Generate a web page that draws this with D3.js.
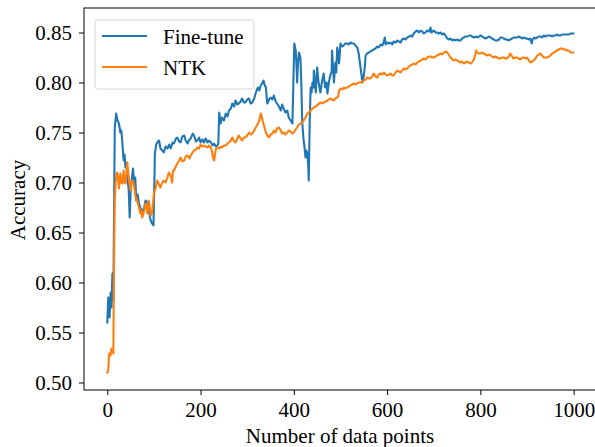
<!DOCTYPE html>
<html>
<head>
<meta charset="utf-8">
<script src="https://cdn.jsdelivr.net/npm/d3@7"></script>
<style>
  body { margin: 0; background: #fff; }
  svg { display: block; }
  text { font-family: 'Liberation Serif', 'Times New Roman', serif; fill: #000; }
  .axis path, .axis line { stroke: #000; stroke-width: 1; }
</style>
</head>
<body>
<div id="chart"></div>
<script>
var seriesNames = ['Fine-tune', 'NTK'];
var seriesColors = ['#1f77b4', '#ff7f0e'];
var xTicks = [0, 200, 400, 600, 800, 1000];
var yTicks = [0.50, 0.55, 0.60, 0.65, 0.70, 0.75, 0.80, 0.85];

var fineTuneN = [0, 2, 5, 7, 9, 11, 13, 15, 16, 19, 22, 25, 28, 30, 32, 35, 37, 39, 41, 43, 46, 48, 50, 52, 55, 58, 60, 62, 65, 68, 71, 75, 79, 82, 86, 89, 93, 96, 99,
  101, 102, 105, 107, 111, 114, 118, 121, 125, 129, 133, 136, 140, 143, 147, 150, 154, 157, 161, 165, 168, 172, 176, 179, 183, 186, 190, 193, 197,
  200, 204, 207, 211, 215, 218, 222, 226, 229, 233, 236, 238, 240, 243, 246, 250, 254, 258, 261, 265, 268, 272, 275, 279, 282, 286, 289, 293, 296,
  300, 304, 307, 311, 315, 318, 321, 323, 326, 329, 332, 335, 337, 340, 343, 347, 350, 354, 357, 361, 364, 368, 372, 375, 378, 382, 386, 389, 393, 397, 399,
  401, 404, 406, 407, 409, 411, 414, 416, 418, 421, 423, 425, 427, 429, 431, 432, 434, 436, 438, 440, 442, 443, 445, 447, 450, 453, 455, 457, 460, 464, 467,
  470, 472, 475, 479, 481, 482, 484, 486, 489, 491, 493, 495, 497, 500, 503, 507, 510, 514, 518, 521, 525, 529, 532, 536, 539, 541, 543, 545, 547, 550, 552,
  554, 557, 561, 564, 568, 571, 575, 579, 582, 586, 590, 593, 595, 597, 600, 604, 607, 611, 614, 618, 622, 625, 629, 632, 636, 640, 643, 647, 650, 654,
  657, 661, 665, 668, 672, 675, 679, 682, 686, 690, 693, 695, 697, 700, 704, 707, 711, 715, 718, 722, 725, 729, 732, 736, 740, 743, 747, 750, 754, 757,
  761, 764, 768, 772, 775, 779, 782, 786, 790, 793, 797, 800, 804, 807, 811, 815, 818, 822, 825, 829, 832, 836, 840, 843, 847, 850, 854, 857, 861, 864,
  868, 871, 875, 879, 882, 886, 890, 893, 897, 900, 904, 907, 910, 912, 915, 918, 922, 925, 929, 932, 936, 940, 943, 947, 950, 954, 957, 961, 964, 968,
  972, 975, 979, 982, 986, 990, 993, 996, 999];
var fineTuneAcc = [0.560, 0.585, 0.565, 0.590, 0.575, 0.609, 0.582, 0.700, 0.755, 0.769, 0.762, 0.759, 0.750, 0.752, 0.742, 0.722, 0.728, 0.715, 0.720, 0.705, 0.692, 0.665, 0.690, 0.702, 0.714, 0.699, 0.705, 0.682, 0.688, 0.679, 0.675, 0.670, 0.675, 0.682, 0.680, 0.672, 0.662, 0.659, 0.657,
  0.700, 0.729, 0.738, 0.740, 0.742, 0.734, 0.732, 0.730, 0.736, 0.734, 0.738, 0.734, 0.740, 0.739, 0.744, 0.745, 0.741, 0.740, 0.746, 0.747, 0.742, 0.739, 0.743, 0.744, 0.749, 0.747, 0.741, 0.742, 0.745,
  0.740, 0.743, 0.740, 0.744, 0.740, 0.742, 0.740, 0.737, 0.739, 0.736, 0.737, 0.739, 0.770, 0.759, 0.765, 0.762, 0.769, 0.766, 0.772, 0.774, 0.779, 0.776, 0.782, 0.778, 0.779, 0.781, 0.784, 0.780, 0.780,
  0.783, 0.784, 0.779, 0.780, 0.784, 0.789, 0.793, 0.795, 0.792, 0.797, 0.799, 0.802, 0.798, 0.795, 0.779, 0.783, 0.785, 0.783, 0.787, 0.781, 0.779, 0.776, 0.772, 0.778, 0.774, 0.770, 0.772, 0.765, 0.762, 0.759, 0.800,
  0.839, 0.832, 0.815, 0.800, 0.820, 0.830, 0.825, 0.800, 0.760, 0.742, 0.735, 0.725, 0.732, 0.729, 0.715, 0.702, 0.760, 0.795, 0.790, 0.800, 0.795, 0.812, 0.800, 0.790, 0.815, 0.800, 0.795, 0.790, 0.800, 0.809, 0.795,
  0.800, 0.789, 0.800, 0.809, 0.810, 0.832, 0.815, 0.800, 0.820, 0.810, 0.835, 0.830, 0.819, 0.839, 0.836, 0.837, 0.839, 0.839, 0.838, 0.840, 0.839, 0.839, 0.837, 0.835, 0.829, 0.822, 0.815, 0.808, 0.800, 0.807, 0.815,
  0.827, 0.829, 0.830, 0.831, 0.832, 0.833, 0.834, 0.836, 0.835, 0.838, 0.837, 0.841, 0.845, 0.838, 0.840, 0.839, 0.840, 0.838, 0.841, 0.840, 0.842, 0.841, 0.840, 0.843, 0.844, 0.843, 0.845, 0.846, 0.847, 0.846,
  0.849, 0.851, 0.852, 0.850, 0.852, 0.851, 0.849, 0.850, 0.852, 0.851, 0.855, 0.850, 0.851, 0.852, 0.850, 0.850, 0.849, 0.850, 0.848, 0.849, 0.847, 0.844, 0.843, 0.844, 0.842, 0.843, 0.842, 0.843, 0.842, 0.842,
  0.844, 0.845, 0.846, 0.846, 0.847, 0.847, 0.846, 0.845, 0.846, 0.845, 0.846, 0.847, 0.846, 0.845, 0.844, 0.845, 0.846, 0.845, 0.844, 0.843, 0.842, 0.842, 0.843, 0.845, 0.845, 0.844, 0.843, 0.843, 0.842, 0.843,
  0.844, 0.845, 0.845, 0.845, 0.846, 0.845, 0.844, 0.845, 0.844, 0.844, 0.843, 0.844, 0.839, 0.843, 0.845, 0.844, 0.845, 0.846, 0.846, 0.845, 0.847, 0.846, 0.847, 0.847, 0.847, 0.846, 0.847, 0.847, 0.848, 0.847,
  0.847, 0.848, 0.848, 0.848, 0.848, 0.848, 0.849, 0.849, 0.849];

var ntkN = [0, 2, 4, 7, 9, 11, 13, 14, 16, 18, 20, 22, 25, 28, 30, 32, 35, 37, 39, 41, 43, 46, 48, 50, 52, 54, 57, 59, 61, 64, 66, 68, 71, 73, 75, 77, 79, 82, 84, 86, 89, 91, 93, 96, 98,
  100, 102, 104, 107, 111, 114, 118, 121, 125, 129, 132, 136, 139, 141, 143, 147, 150, 154, 157, 161, 165, 168, 172, 176, 179, 183, 186, 190, 193, 197,
  200, 204, 207, 211, 215, 218, 222, 225, 227, 229, 231, 233, 236, 240, 243, 246, 250, 254, 258, 261, 265, 268, 272, 275, 279, 282, 286, 289, 293, 296,
  300, 304, 307, 311, 315, 318, 321, 323, 326, 329, 331, 333, 336, 340, 343, 347, 350, 354, 357, 361, 364, 368, 372, 375, 379, 382, 386, 389, 393, 397,
  400, 404, 407, 411, 414, 418, 421, 425, 429, 432, 436, 440, 443, 447, 450, 454, 457, 461, 464, 468, 472, 475, 479, 482, 486, 489, 493, 495, 497,
  500, 504, 507, 511, 514, 518, 521, 525, 529, 532, 536, 539, 543, 546, 550, 554, 557, 561, 564, 568, 571, 575, 579, 582, 586, 590, 593, 597,
  600, 604, 607, 611, 614, 618, 622, 625, 629, 632, 636, 640, 643, 647, 650, 654, 657, 661, 665, 668, 672, 675, 679, 682, 686, 690, 693, 697,
  700, 704, 707, 711, 715, 718, 722, 725, 729, 732, 736, 740, 743, 747, 750, 754, 757, 761, 764, 768, 772, 775, 779, 782, 786, 789, 791, 793, 797,
  800, 804, 807, 811, 815, 818, 822, 825, 829, 832, 836, 840, 843, 847, 850, 854, 857, 861, 864, 868, 871, 875, 879, 882, 886, 890, 893, 897,
  900, 904, 907, 911, 914, 918, 922, 925, 929, 932, 936, 940, 943, 947, 950, 954, 957, 961, 964, 968, 972, 975, 979, 982, 986, 990, 993, 996, 999];
var ntkAcc = [0.510, 0.512, 0.529, 0.527, 0.534, 0.532, 0.529, 0.600, 0.682, 0.700, 0.710, 0.709, 0.694, 0.709, 0.700, 0.699, 0.712, 0.700, 0.699, 0.710, 0.720, 0.705, 0.698, 0.692, 0.700, 0.702, 0.699, 0.690, 0.685, 0.682, 0.678, 0.675, 0.669, 0.672, 0.665, 0.668, 0.672, 0.679, 0.675, 0.669, 0.682, 0.675, 0.667, 0.670, 0.680,
  0.689, 0.692, 0.695, 0.702, 0.698, 0.695, 0.700, 0.702, 0.700, 0.705, 0.710, 0.707, 0.700, 0.712, 0.712, 0.716, 0.719, 0.722, 0.725, 0.721, 0.722, 0.726, 0.727, 0.724, 0.727, 0.730, 0.732, 0.733, 0.735, 0.734,
  0.738, 0.736, 0.737, 0.736, 0.735, 0.737, 0.735, 0.730, 0.724, 0.722, 0.728, 0.734, 0.735, 0.734, 0.736, 0.735, 0.737, 0.737, 0.739, 0.740, 0.742, 0.745, 0.741, 0.740, 0.744, 0.747, 0.744, 0.742, 0.745, 0.745,
  0.747, 0.750, 0.748, 0.749, 0.752, 0.755, 0.757, 0.759, 0.762, 0.769, 0.766, 0.762, 0.757, 0.750, 0.747, 0.745, 0.748, 0.749, 0.752, 0.750, 0.754, 0.755, 0.752, 0.749, 0.750, 0.748, 0.750, 0.752, 0.751, 0.749,
  0.750, 0.753, 0.755, 0.758, 0.759, 0.760, 0.762, 0.765, 0.769, 0.770, 0.772, 0.774, 0.775, 0.776, 0.777, 0.779, 0.780, 0.779, 0.780, 0.781, 0.782, 0.783, 0.784, 0.783, 0.782, 0.784, 0.785, 0.786, 0.792,
  0.794, 0.793, 0.795, 0.794, 0.795, 0.796, 0.797, 0.798, 0.799, 0.798, 0.799, 0.800, 0.800, 0.801, 0.802, 0.803, 0.805, 0.804, 0.804, 0.806, 0.809, 0.806, 0.805, 0.808, 0.809, 0.808, 0.810, 0.808,
  0.807, 0.808, 0.809, 0.807, 0.807, 0.810, 0.812, 0.811, 0.810, 0.812, 0.814, 0.813, 0.814, 0.816, 0.817, 0.818, 0.819, 0.818, 0.820, 0.821, 0.822, 0.823, 0.824, 0.823, 0.825, 0.826, 0.826, 0.825,
  0.825, 0.826, 0.827, 0.828, 0.829, 0.828, 0.830, 0.831, 0.830, 0.828, 0.825, 0.823, 0.822, 0.823, 0.822, 0.821, 0.820, 0.821, 0.819, 0.820, 0.821, 0.820, 0.819, 0.820, 0.823, 0.828, 0.832, 0.830, 0.829,
  0.829, 0.830, 0.829, 0.828, 0.827, 0.828, 0.827, 0.826, 0.825, 0.826, 0.825, 0.824, 0.824, 0.825, 0.825, 0.824, 0.824, 0.826, 0.829, 0.826, 0.824, 0.825, 0.825, 0.824, 0.823, 0.825, 0.825, 0.824,
  0.825, 0.822, 0.820, 0.821, 0.822, 0.824, 0.827, 0.828, 0.829, 0.827, 0.825, 0.825, 0.825, 0.826, 0.827, 0.829, 0.830, 0.831, 0.832, 0.833, 0.834, 0.834, 0.833, 0.833, 0.832, 0.832, 0.830, 0.830, 0.830];

var width = 595;
var height = 447;
var plot = {left: 84, right: 596.5, top: 8, bottom: 390};

var x = d3.scaleLinear().domain([-49.95, 1048.95]).range([plot.left, plot.right]);
var y = d3.scaleLinear().domain([0.4925, 0.8745]).range([plot.bottom, plot.top]);

var xAxis = d3.axisBottom(x).tickValues(xTicks).tickSize(5).tickPadding(7).tickFormat(d3.format('d'));
var yAxis = d3.axisLeft(y).tickValues(yTicks).tickSize(5).tickPadding(7).tickFormat(d3.format('.2f'));

var svg = d3.select('#chart').append('svg')
  .attr('width', width)
  .attr('height', height);

svg.append('defs').append('clipPath')
  .attr('id', 'clip')
  .append('rect')
  .attr('x', plot.left)
  .attr('y', plot.top)
  .attr('width', plot.right - plot.left)
  .attr('height', plot.bottom - plot.top);

var series = [
  {name: seriesNames[0], color: seriesColors[0], values: fineTuneN.map(function(n, i) { return [n, fineTuneAcc[i]]; })},
  {name: seriesNames[1], color: seriesColors[1], values: ntkN.map(function(n, i) { return [n, ntkAcc[i]]; })}
];

var line = d3.line()
  .x(function(d) { return x(d[0]); })
  .y(function(d) { return y(d[1]); });

svg.append('g')
  .attr('clip-path', 'url(#clip)')
  .selectAll('path')
  .data(series)
  .enter().append('path')
  .attr('fill', 'none')
  .attr('stroke', function(d) { return d.color; })
  .attr('stroke-width', 2.1)
  .attr('stroke-linejoin', 'round')
  .attr('stroke-linecap', 'square')
  .attr('d', function(d) { return line(d.values); });

// frame (right edge falls just outside the window)
svg.append('rect')
  .attr('x', plot.left)
  .attr('y', plot.top)
  .attr('width', plot.right - plot.left)
  .attr('height', plot.bottom - plot.top)
  .attr('fill', 'none')
  .attr('stroke', '#000')
  .attr('stroke-width', 1);

var gx = svg.append('g')
  .attr('class', 'x axis')
  .attr('transform', 'translate(0,' + plot.bottom + ')')
  .call(xAxis);
gx.select('.domain').remove();
gx.selectAll('text').style('font-size', '21px');

var gy = svg.append('g')
  .attr('class', 'y axis')
  .attr('transform', 'translate(' + plot.left + ',0)')
  .call(yAxis);
gy.select('.domain').remove();
gy.selectAll('text').style('font-size', '21px');

svg.append('text')
  .attr('x', 340)
  .attr('y', 443)
  .attr('text-anchor', 'middle')
  .style('font-size', '21px')
  .text('Number of data points');

svg.append('text')
  .attr('transform', 'translate(25,200) rotate(-90)')
  .attr('text-anchor', 'middle')
  .style('font-size', '21px')
  .text('Accuracy');

// legend
var legend = svg.append('g').attr('class', 'legend');
legend.append('rect')
  .attr('x', 95)
  .attr('y', 20)
  .attr('width', 159)
  .attr('height', 69)
  .attr('rx', 3)
  .attr('fill', '#fff')
  .attr('fill-opacity', 0.8)
  .attr('stroke', '#d6d6d6')
  .attr('stroke-width', 1);

var item = legend.selectAll('.item')
  .data(series)
  .enter().append('g')
  .attr('class', 'item')
  .attr('transform', function(d, i) { return 'translate(0,' + (36 + i * 31) + ')'; });

item.append('line')
  .attr('x1', 102)
  .attr('x2', 147)
  .attr('stroke', function(d) { return d.color; })
  .attr('stroke-width', 2.1);

item.append('text')
  .attr('x', 163)
  .attr('y', 8)
  .style('font-size', '21px')
  .text(function(d) { return d.name; });
</script>
</body>
</html>
